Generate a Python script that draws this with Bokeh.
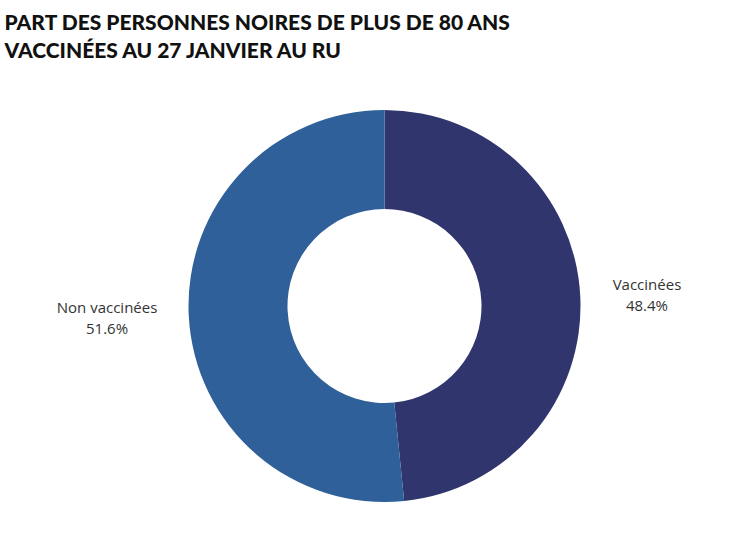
import math
from bokeh.plotting import figure
from bokeh.models import ColumnDataSource, Range1d
from bokeh.core.properties import value
from bokeh.embed import file_html
from bokeh.resources import INLINE

# Data
categories = ["Vaccinées", "Non vaccinées"]
shares = [48.4, 51.6]
colors = ["#31356e", "#2f6099"]
title_lines = ["PART DES PERSONNES NOIRES DE PLUS DE 80 ANS",
               "VACCINÉES AU 27 JANVIER AU RU"]

W, H = 729, 540
p = figure(width=W, height=H, output_backend="svg", toolbar_location=None,
           x_range=Range1d(0, W), y_range=Range1d(0, H), min_border=0)
p.axis.visible = False
p.grid.visible = False
p.outline_line_color = None
p.background_fill_color = "white"
p.border_fill_color = "white"

cx, cy = 384, 234.5
R_out, R_in = 196, 97

total = sum(shares)
starts, ends, mids = [], [], []
a = math.pi / 2
for s in shares:
    sweep = 2 * math.pi * s / total
    starts.append(a)
    ends.append(a - sweep)
    mids.append(a - sweep / 2)
    a -= sweep

src = ColumnDataSource(dict(start=starts, end=ends, color=colors,
                            x=[cx] * len(shares), y=[cy] * len(shares)))
p.annular_wedge(x="x", y="y", inner_radius=R_in, outer_radius=R_out,
                start_angle="start", end_angle="end", direction="clock",
                fill_color="color", line_color=None, source=src)

# Labels
gap = 33
lx, ly, ltext = [], [], []
for cat, s, m in zip(categories, shares, mids):
    c = math.cos(m)
    half = 3.75 * len(cat)
    sign = 1 if c >= 0 else -1
    lx.append(cx + c * (R_out + gap) + sign * half)
    ly.append(cy + math.sin(m) * (R_out + gap))
    ltext.append(f"{cat}\n{s:.1f}%")
p.text(x=lx, y=ly, text=ltext, text_align="center", text_baseline="middle",
       text_font=value("Open Sans"), text_font_size="15px",
       text_color="#333333", text_line_height=1.05)

# Title
p.text(x=[4, 4], y=[519, 491], text=title_lines, text_align="left",
       text_baseline="alphabetic", text_font=value("'Lato Black', Lato"),
       text_font_style="bold", text_font_size="21px", text_color="#111111")

open("out.html", "w").write(file_html(p, INLINE))
